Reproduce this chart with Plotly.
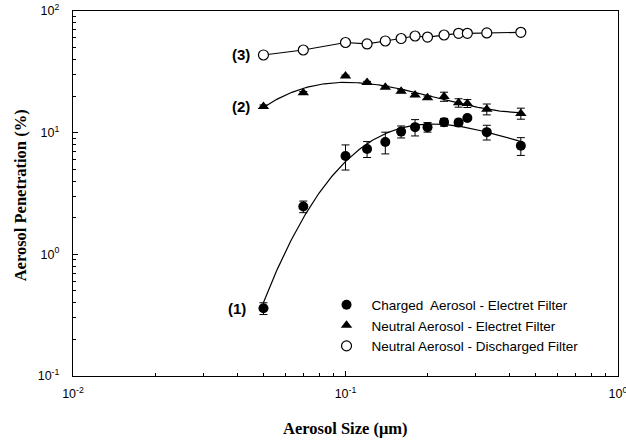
import numpy as np
import plotly.graph_objects as go

# ---- data ----
aerosol_size = [0.05, 0.07, 0.10, 0.12, 0.14, 0.16, 0.18, 0.20, 0.23, 0.26, 0.28, 0.33, 0.44]

charged_electret = [0.36, 2.47, 6.43, 7.35, 8.39, 10.2, 11.1, 11.1, 12.2, 12.1, 13.2, 10.1, 7.8]
charged_electret_err = [0.04, 0.27, 1.5, 1.1, 1.7, 1.15, 1.7, 1.0, 0.9, 0.8, 0.5, 1.4, 1.3]

neutral_electret = [16.4, 21.3, 29.2, 25.9, 23.6, 21.9, 20.4, 19.4, 19.8, 17.6, 17.4, 15.6, 14.4]
neutral_electret_err = [0.5, 0.5, 0.5, 0.5, 0.5, 0.6, 0.6, 0.6, 1.7, 1.4, 1.3, 1.6, 1.5]

neutral_discharged = [43.5, 47.8, 55.1, 53.6, 56.7, 59.4, 62.3, 61.1, 63.5, 65.6, 65.6, 66.0, 66.8]

legend_names = [
    "Charged\u00a0 Aerosol - Electret Filter",
    "Neutral Aerosol - Electret Filter",
    "Neutral Aerosol - Discharged Filter",
]
curve_labels = ["(1)", "(2)", "(3)"]

x_tickvals = [0.01, 0.1, 1]
x_ticktext = ["10<sup>-2</sup>", "10<sup>-1</sup>", "10<sup>0</sup>"]
y_tickvals = [0.1, 1, 10, 100]
y_ticktext = ["10<sup>-1</sup>", "10<sup>0</sup>", "10<sup>1</sup>", "10<sup>2</sup>"]
x_decades = [-2, -1]
y_decades = [-1, 0, 1]
minor_mult = [2, 3, 4, 5, 6, 7, 8, 9]

x_title = "Aerosol Size (\u03bcm)"
y_title = "Aerosol Penetration (%)"

x_minor = [m * 10.0 ** e for e in x_decades for m in minor_mult]
y_minor = [m * 10.0 ** e for e in y_decades for m in minor_mult]

# ---- fitted curves (log-log polynomial regressions of the data) ----
lx = np.log10(aerosol_size)
x_fit = np.logspace(lx.min(), lx.max(), 200)


def loglog_fit(values, deg):
    coef = np.polyfit(lx, np.log10(values), deg)
    return 10 ** np.polyval(coef, np.log10(x_fit))


fit1 = loglog_fit(charged_electret, 3)
fit2 = loglog_fit(neutral_electret, 3)

fig = go.Figure()

line_style = dict(color="black", width=1.2)

fig.add_trace(go.Scatter(x=x_fit, y=fit1, mode="lines", line=line_style,
                         showlegend=False, hoverinfo="skip"))
fig.add_trace(go.Scatter(x=x_fit, y=fit2, mode="lines", line=line_style,
                         showlegend=False, hoverinfo="skip"))
fig.add_trace(go.Scatter(x=aerosol_size, y=neutral_discharged, mode="lines",
                         line=line_style, showlegend=False, hoverinfo="skip"))

err_style = dict(type="data", color="black", thickness=1, width=4)

fig.add_trace(go.Scatter(
    x=aerosol_size, y=charged_electret, mode="markers", name=legend_names[0],
    marker=dict(symbol="circle", size=10, color="black"),
    error_y=dict(array=charged_electret_err, **err_style),
))
fig.add_trace(go.Scatter(
    x=aerosol_size, y=neutral_electret, mode="markers", name=legend_names[1],
    marker=dict(symbol="triangle-up", size=10, color="black"),
    error_y=dict(array=neutral_electret_err, **err_style),
))
fig.add_trace(go.Scatter(
    x=aerosol_size, y=neutral_discharged, mode="markers", name=legend_names[2],
    marker=dict(symbol="circle", size=10, color="white",
                line=dict(color="black", width=1.2)),
))

annotations = []
for lab, series, shift in zip(curve_labels,
                              [charged_electret, neutral_electret, neutral_discharged],
                              [-15, -11, -11]):
    annotations.append(dict(
        x=np.log10(aerosol_size[0]), y=np.log10(series[0]), xref="x", yref="y",
        text=lab, showarrow=False, xanchor="right", yanchor="middle", xshift=shift,
        font=dict(family="Arial, Liberation Sans", size=15, color="black", weight="bold"),
    ))

title_font = dict(family="Times New Roman, Liberation Serif", size=16.5, color="black", weight="bold")
annotations.append(dict(
    x=0.5, y=-0.1425, xref="paper", yref="paper", text=x_title, showarrow=False,
    xanchor="center", yanchor="middle", font=title_font,
))
annotations.append(dict(
    x=-0.0972, y=0.495, xref="paper", yref="paper", text=y_title, showarrow=False,
    xanchor="center", yanchor="middle", textangle=-90, font=title_font,
))

axis_common = dict(
    type="log", showgrid=False, zeroline=False, automargin=False,
    showline=True, linecolor="black", linewidth=1.2, mirror=True,
    ticks="inside", ticklen=5, tickwidth=1, tickcolor="black",
    tickmode="array", ticklabeloverflow="allow",
    tickfont=dict(family="Arial, Liberation Sans", size=12.5, color="black"),
)
minor_common = dict(ticks="inside", ticklen=3, tickwidth=1, tickcolor="black",
                    tickmode="array", showgrid=False)

fig.update_layout(
    width=626, height=440,
    margin=dict(l=73, r=8, t=11, b=64, autoexpand=False),
    paper_bgcolor="white", plot_bgcolor="white",
    xaxis=dict(range=[-2, 0], ticklabelstandoff=6,
               tickvals=x_tickvals, ticktext=x_ticktext,
               minor=dict(tickvals=x_minor, **minor_common), **axis_common),
    yaxis=dict(range=[-1, 2], ticklabelstandoff=10,
               tickvals=y_tickvals, ticktext=y_ticktext,
               minor=dict(tickvals=y_minor, **minor_common), **axis_common),
    legend=dict(x=0.456, y=0.237, xanchor="left", yanchor="top", itemwidth=40,
                bgcolor="rgba(0,0,0,0)", borderwidth=0, tracegroupgap=0,
                font=dict(family="Arial, Liberation Sans", size=13.5, color="black")),
    annotations=annotations,
    showlegend=True,
)

fig.write_html("out.html")
